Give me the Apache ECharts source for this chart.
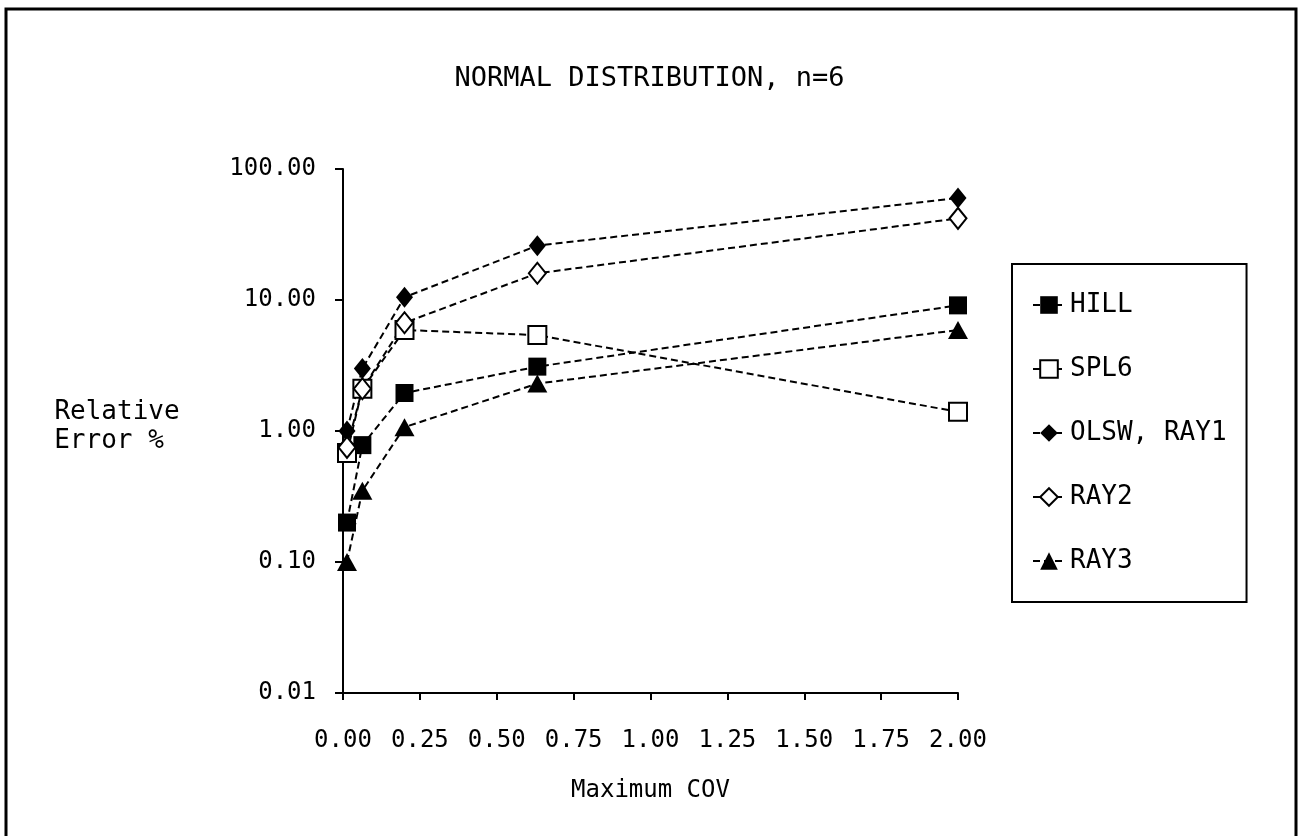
<!DOCTYPE html>
<html>
<head>
<meta charset="utf-8">
<script src="https://cdn.jsdelivr.net/npm/echarts@6/dist/echarts.min.js"></script>
<style>
  html, body { margin: 0; padding: 0; background: #fff; }
  #chart { width: 1299px; height: 836px; }
</style>
</head>
<body>
<div id="chart"></div>
<script>
// maximum COV values (x)
var covValues = [0.013, 0.063, 0.2, 0.632, 2.0]
var hill = [0.2, 0.78, 1.95, 3.1, 9.1]
var spl6 = [0.68, 2.1, 5.9, 5.4, 1.4]
var olswRay1 = [1.0, 3.0, 10.5, 26, 60]
var ray2 = [0.75, 2.1, 6.7, 16, 42]
var ray3 = [0.1, 0.35, 1.07, 2.3, 5.9]

var font = 'DejaVu Sans Mono'

function pairs (ys) {
  return covValues.map(function (x, i) { return [x, ys[i]] })
}

function makeSeries (name, ys, symbol, size, filled) {
  return {
    name: name,
    type: 'line',
    data: pairs(ys),
    symbol: symbol,
    symbolSize: size,
    showAllSymbol: true,
    lineStyle: { color: '#000', width: 2, type: [7, 4] },
    itemStyle: {
      color: filled ? '#000' : '#fff',
      borderColor: '#000',
      borderWidth: filled ? 0 : 2
    },
    emphasis: { disabled: true }
  }
}

var chart = echarts.init(document.getElementById('chart'))
var option = {
  backgroundColor: '#fff',
  animation: false,
  title: {
    text: 'NORMAL DISTRIBUTION, n=6',
    left: 'center',
    top: 60,
    textStyle: { fontFamily: font, fontSize: 27, fontWeight: 'normal', color: '#000' }
  },
  legend: {
    orient: 'vertical',
    left: 1012,
    top: 264,
    padding: [28, 20, 28, 20],
    itemGap: 38,
    itemWidth: 32,
    itemHeight: 22,
    borderColor: '#000',
    borderWidth: 2,
    textStyle: { fontFamily: font, fontSize: 26, color: '#000' },
    data: ['HILL', 'SPL6', 'OLSW, RAY1', 'RAY2', 'RAY3']
  },
  grid: { left: 343, right: 341, top: 169, bottom: 143 },
  xAxis: {
    type: 'value',
    min: 0,
    max: 2,
    interval: 0.25,
    name: 'Maximum COV',
    nameLocation: 'middle',
    nameGap: 86,
    nameTextStyle: { fontFamily: font, fontSize: 24, color: '#000' },
    axisLine: { lineStyle: { color: '#000', width: 2 } },
    axisTick: { length: 7, lineStyle: { color: '#000', width: 2 } },
    axisLabel: {
      fontFamily: font, fontSize: 24, color: '#000', margin: 36,
      formatter: function (v) { return v.toFixed(2) }
    },
    splitLine: { show: false }
  },
  yAxis: {
    type: 'log',
    logBase: 10,
    min: 0.01,
    max: 100,
    axisLine: { show: true, lineStyle: { color: '#000', width: 2 } },
    axisTick: { show: true, length: 8, lineStyle: { color: '#000', width: 2 } },
    axisLabel: {
      fontFamily: font, fontSize: 24, color: '#000', margin: 27,
      formatter: function (v) { return v.toFixed(2) }
    },
    splitLine: { show: false }
  },
  graphic: [
    {
      type: 'rect',
      shape: { x: 6, y: 9, width: 1290, height: 900 },
      style: { fill: 'none', stroke: '#000', lineWidth: 3 }
    },
    {
      type: 'text',
      x: 117,
      y: 412,
      style: {
        text: 'Relative',
        font: '26px "DejaVu Sans Mono"',
        fill: '#000',
        textAlign: 'center',
        textVerticalAlign: 'middle'
      }
    },
    {
      type: 'text',
      x: 109,
      y: 441,
      style: {
        text: 'Error %',
        font: '26px "DejaVu Sans Mono"',
        fill: '#000',
        textAlign: 'center',
        textVerticalAlign: 'middle'
      }
    }
  ],
  series: [
    makeSeries('HILL', hill, 'rect', 18, true),
    makeSeries('SPL6', spl6, 'rect', 18, false),
    makeSeries('OLSW, RAY1', olswRay1, 'diamond', [17, 21], true),
    makeSeries('RAY2', ray2, 'diamond', [17, 21], false),
    makeSeries('RAY3', ray3, 'triangle', [20, 18], true)
  ]
}
chart.setOption(option)
</script>
</body>
</html>
